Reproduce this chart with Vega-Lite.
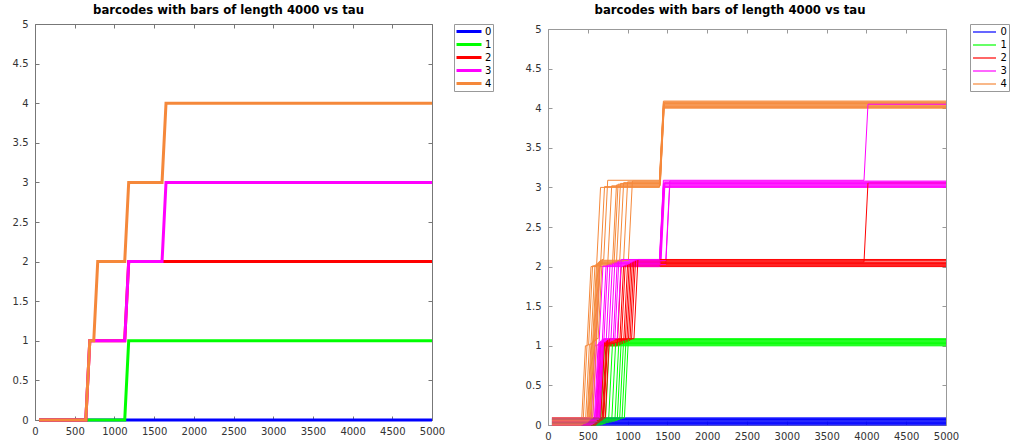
{
  "$schema": "https://vega.github.io/schema/vega-lite/v6.json",
  "padding": {"left": 0, "top": 4, "right": 0, "bottom": 0},
  "background": "white",
  "spacing": 19,
  "resolve": {"scale": {"color": "independent"}, "legend": {"color": "independent"}},
  "config": {
    "view": {"stroke": null},
    "font": "DejaVu Sans",
    "axis": {"grid": false, "labelFont": "DejaVu Sans", "labelFontSize": 10, "labelColor": "#333", "labelFlush": false, "labelOverlap": false, "tickSize": -4, "title": null}
  },
  "datasets": {
    "L": [
      {"t":50,"v":0,"s":"0"},{"t":5000,"v":0,"s":"0"},
      {"t":50,"v":0,"s":"1"},{"t":1130,"v":0,"s":"1"},{"t":1180,"v":1,"s":"1"},{"t":5000,"v":1,"s":"1"},
      {"t":50,"v":0,"s":"2"},{"t":640,"v":0,"s":"2"},{"t":690,"v":1,"s":"2"},{"t":1130,"v":1,"s":"2"},{"t":1180,"v":2,"s":"2"},{"t":5000,"v":2,"s":"2"},
      {"t":50,"v":0,"s":"3"},{"t":640,"v":0,"s":"3"},{"t":690,"v":1,"s":"3"},{"t":1130,"v":1,"s":"3"},{"t":1180,"v":2,"s":"3"},{"t":1600,"v":2,"s":"3"},{"t":1650,"v":3,"s":"3"},{"t":5000,"v":3,"s":"3"},
      {"t":50,"v":0,"s":"4"},{"t":640,"v":0,"s":"4"},{"t":690,"v":1,"s":"4"},{"t":740,"v":1,"s":"4"},{"t":790,"v":2,"s":"4"},{"t":1130,"v":2,"s":"4"},{"t":1180,"v":3,"s":"4"},{"t":1600,"v":3,"s":"4"},{"t":1650,"v":4,"s":"4"},{"t":5000,"v":4,"s":"4"}
    ],
    "R": [
      {"t":50,"v":0,"s":"0","r":0},{"t":5000,"v":0,"s":"0","r":0},
      {"t":50,"v":0,"s":"1","r":0},{"t":660,"v":0,"s":"1","r":0},{"t":710,"v":1,"s":"1","r":0},{"t":5000,"v":1,"s":"1","r":0},
      {"t":50,"v":0,"s":"2","r":0},{"t":600,"v":0,"s":"2","r":0},{"t":650,"v":1,"s":"2","r":0},{"t":870,"v":1,"s":"2","r":0},{"t":920,"v":2,"s":"2","r":0},{"t":5000,"v":2,"s":"2","r":0},
      {"t":50,"v":0,"s":"3","r":0},{"t":540,"v":0,"s":"3","r":0},{"t":590,"v":1,"s":"3","r":0},{"t":600,"v":1,"s":"3","r":0},{"t":650,"v":2,"s":"3","r":0},{"t":1400,"v":2,"s":"3","r":0},{"t":1450,"v":3,"s":"3","r":0},{"t":5000,"v":3,"s":"3","r":0},
      {"t":50,"v":0,"s":"4","r":0},{"t":420,"v":0,"s":"4","r":0},{"t":470,"v":1,"s":"4","r":0},{"t":490,"v":1,"s":"4","r":0},{"t":540,"v":2,"s":"4","r":0},{"t":610,"v":2,"s":"4","r":0},{"t":660,"v":3,"s":"4","r":0},{"t":1400,"v":3,"s":"4","r":0},{"t":1450,"v":4,"s":"4","r":0},{"t":5000,"v":4,"s":"4","r":0},

      {"t":50,"v":0.01,"s":"0","r":1},{"t":5000,"v":0.01,"s":"0","r":1},
      {"t":50,"v":0.01,"s":"1","r":1},{"t":690,"v":0.01,"s":"1","r":1},{"t":740,"v":1.01,"s":"1","r":1},{"t":5000,"v":1.01,"s":"1","r":1},
      {"t":50,"v":0.01,"s":"2","r":1},{"t":610,"v":0.01,"s":"2","r":1},{"t":660,"v":1.01,"s":"2","r":1},{"t":900,"v":1.01,"s":"2","r":1},{"t":950,"v":2.01,"s":"2","r":1},{"t":5000,"v":2.01,"s":"2","r":1},
      {"t":50,"v":0.01,"s":"3","r":1},{"t":560,"v":0.01,"s":"3","r":1},{"t":610,"v":1.01,"s":"3","r":1},{"t":640,"v":1.01,"s":"3","r":1},{"t":690,"v":2.01,"s":"3","r":1},{"t":1410,"v":2.01,"s":"3","r":1},{"t":1460,"v":3.01,"s":"3","r":1},{"t":5000,"v":3.01,"s":"3","r":1},
      {"t":50,"v":0.01,"s":"4","r":1},{"t":440,"v":0.01,"s":"4","r":1},{"t":490,"v":1.01,"s":"4","r":1},{"t":510,"v":1.01,"s":"4","r":1},{"t":560,"v":2.01,"s":"4","r":1},{"t":660,"v":2.01,"s":"4","r":1},{"t":710,"v":3.01,"s":"4","r":1},{"t":1400,"v":3.01,"s":"4","r":1},{"t":1450,"v":4.01,"s":"4","r":1},{"t":5000,"v":4.01,"s":"4","r":1},

      {"t":50,"v":0.02,"s":"0","r":2},{"t":5000,"v":0.02,"s":"0","r":2},
      {"t":50,"v":0.02,"s":"1","r":2},{"t":720,"v":0.02,"s":"1","r":2},{"t":770,"v":1.02,"s":"1","r":2},{"t":5000,"v":1.02,"s":"1","r":2},
      {"t":50,"v":0.02,"s":"2","r":2},{"t":620,"v":0.02,"s":"2","r":2},{"t":670,"v":1.02,"s":"2","r":2},{"t":920,"v":1.02,"s":"2","r":2},{"t":970,"v":2.02,"s":"2","r":2},{"t":5000,"v":2.02,"s":"2","r":2},
      {"t":50,"v":0.02,"s":"3","r":2},{"t":580,"v":0.02,"s":"3","r":2},{"t":630,"v":1.02,"s":"3","r":2},{"t":680,"v":1.02,"s":"3","r":2},{"t":730,"v":2.02,"s":"3","r":2},{"t":1400,"v":2.02,"s":"3","r":2},{"t":1450,"v":3.02,"s":"3","r":2},{"t":5000,"v":3.02,"s":"3","r":2},
      {"t":50,"v":0.02,"s":"4","r":2},{"t":470,"v":0.02,"s":"4","r":2},{"t":520,"v":1.02,"s":"4","r":2},{"t":540,"v":1.02,"s":"4","r":2},{"t":590,"v":2.02,"s":"4","r":2},{"t":750,"v":2.02,"s":"4","r":2},{"t":800,"v":3.02,"s":"4","r":2},{"t":1410,"v":3.02,"s":"4","r":2},{"t":1460,"v":4.02,"s":"4","r":2},{"t":5000,"v":4.02,"s":"4","r":2},

      {"t":50,"v":0.03,"s":"0","r":3},{"t":5000,"v":0.03,"s":"0","r":3},
      {"t":50,"v":0.03,"s":"1","r":3},{"t":760,"v":0.03,"s":"1","r":3},{"t":810,"v":1.03,"s":"1","r":3},{"t":5000,"v":1.03,"s":"1","r":3},
      {"t":50,"v":0.03,"s":"2","r":3},{"t":640,"v":0.03,"s":"2","r":3},{"t":690,"v":1.03,"s":"2","r":3},{"t":950,"v":1.03,"s":"2","r":3},{"t":1000,"v":2.03,"s":"2","r":3},{"t":5000,"v":2.03,"s":"2","r":3},
      {"t":50,"v":0.03,"s":"3","r":3},{"t":600,"v":0.03,"s":"3","r":3},{"t":650,"v":1.03,"s":"3","r":3},{"t":700,"v":1.03,"s":"3","r":3},{"t":750,"v":2.03,"s":"3","r":3},{"t":1480,"v":2.03,"s":"3","r":3},{"t":1530,"v":3.03,"s":"3","r":3},{"t":5000,"v":3.03,"s":"3","r":3},
      {"t":50,"v":0.03,"s":"4","r":3},{"t":490,"v":0.03,"s":"4","r":3},{"t":540,"v":1.03,"s":"4","r":3},{"t":560,"v":1.03,"s":"4","r":3},{"t":610,"v":2.03,"s":"4","r":3},{"t":810,"v":2.03,"s":"4","r":3},{"t":860,"v":3.03,"s":"4","r":3},{"t":1400,"v":3.03,"s":"4","r":3},{"t":1450,"v":4.03,"s":"4","r":3},{"t":5000,"v":4.03,"s":"4","r":3},

      {"t":50,"v":0.04,"s":"0","r":4},{"t":5000,"v":0.04,"s":"0","r":4},
      {"t":50,"v":0.04,"s":"1","r":4},{"t":800,"v":0.04,"s":"1","r":4},{"t":850,"v":1.04,"s":"1","r":4},{"t":5000,"v":1.04,"s":"1","r":4},
      {"t":50,"v":0.04,"s":"2","r":4},{"t":650,"v":0.04,"s":"2","r":4},{"t":700,"v":1.04,"s":"2","r":4},{"t":970,"v":1.04,"s":"2","r":4},{"t":1020,"v":2.04,"s":"2","r":4},{"t":5000,"v":2.04,"s":"2","r":4},
      {"t":50,"v":0.04,"s":"3","r":4},{"t":590,"v":0.04,"s":"3","r":4},{"t":640,"v":1.04,"s":"3","r":4},{"t":730,"v":1.04,"s":"3","r":4},{"t":780,"v":2.04,"s":"3","r":4},{"t":1410,"v":2.04,"s":"3","r":4},{"t":1460,"v":3.04,"s":"3","r":4},{"t":5000,"v":3.04,"s":"3","r":4},
      {"t":50,"v":0.04,"s":"4","r":4},{"t":500,"v":0.04,"s":"4","r":4},{"t":550,"v":1.04,"s":"4","r":4},{"t":570,"v":1.04,"s":"4","r":4},{"t":620,"v":2.04,"s":"4","r":4},{"t":830,"v":2.04,"s":"4","r":4},{"t":880,"v":3.04,"s":"4","r":4},{"t":1410,"v":3.04,"s":"4","r":4},{"t":1460,"v":4.04,"s":"4","r":4},{"t":5000,"v":4.04,"s":"4","r":4},

      {"t":50,"v":0.05,"s":"0","r":5},{"t":5000,"v":0.05,"s":"0","r":5},
      {"t":50,"v":0.05,"s":"1","r":5},{"t":840,"v":0.05,"s":"1","r":5},{"t":890,"v":1.05,"s":"1","r":5},{"t":5000,"v":1.05,"s":"1","r":5},
      {"t":50,"v":0.05,"s":"2","r":5},{"t":660,"v":0.05,"s":"2","r":5},{"t":710,"v":1.05,"s":"2","r":5},{"t":990,"v":1.05,"s":"2","r":5},{"t":1040,"v":2.05,"s":"2","r":5},{"t":5000,"v":2.05,"s":"2","r":5},
      {"t":50,"v":0.05,"s":"3","r":5},{"t":620,"v":0.05,"s":"3","r":5},{"t":670,"v":1.05,"s":"3","r":5},{"t":760,"v":1.05,"s":"3","r":5},{"t":810,"v":2.05,"s":"3","r":5},{"t":1400,"v":2.05,"s":"3","r":5},{"t":1450,"v":3.05,"s":"3","r":5},{"t":5000,"v":3.05,"s":"3","r":5},
      {"t":50,"v":0.05,"s":"4","r":5},{"t":510,"v":0.05,"s":"4","r":5},{"t":560,"v":1.05,"s":"4","r":5},{"t":580,"v":1.05,"s":"4","r":5},{"t":630,"v":2.05,"s":"4","r":5},{"t":860,"v":2.05,"s":"4","r":5},{"t":910,"v":3.05,"s":"4","r":5},{"t":1400,"v":3.05,"s":"4","r":5},{"t":1450,"v":4.05,"s":"4","r":5},{"t":5000,"v":4.05,"s":"4","r":5},

      {"t":50,"v":0.06,"s":"0","r":6},{"t":5000,"v":0.06,"s":"0","r":6},
      {"t":50,"v":0.06,"s":"1","r":6},{"t":870,"v":0.06,"s":"1","r":6},{"t":920,"v":1.06,"s":"1","r":6},{"t":5000,"v":1.06,"s":"1","r":6},
      {"t":50,"v":0.06,"s":"2","r":6},{"t":680,"v":0.06,"s":"2","r":6},{"t":730,"v":1.06,"s":"2","r":6},{"t":1010,"v":1.06,"s":"2","r":6},{"t":1060,"v":2.06,"s":"2","r":6},{"t":3970,"v":2.06,"s":"2","r":6},{"t":4020,"v":3.06,"s":"2","r":6},{"t":5000,"v":3.06,"s":"2","r":6},
      {"t":50,"v":0.06,"s":"3","r":6},{"t":610,"v":0.06,"s":"3","r":6},{"t":660,"v":1.06,"s":"3","r":6},{"t":790,"v":1.06,"s":"3","r":6},{"t":840,"v":2.06,"s":"3","r":6},{"t":1420,"v":2.06,"s":"3","r":6},{"t":1470,"v":3.06,"s":"3","r":6},{"t":5000,"v":3.06,"s":"3","r":6},
      {"t":50,"v":0.06,"s":"4","r":6},{"t":520,"v":0.06,"s":"4","r":6},{"t":570,"v":1.06,"s":"4","r":6},{"t":590,"v":1.06,"s":"4","r":6},{"t":640,"v":2.06,"s":"4","r":6},{"t":900,"v":2.06,"s":"4","r":6},{"t":950,"v":3.06,"s":"4","r":6},{"t":1410,"v":3.06,"s":"4","r":6},{"t":1460,"v":4.06,"s":"4","r":6},{"t":5000,"v":4.06,"s":"4","r":6},

      {"t":50,"v":0.07,"s":"0","r":7},{"t":5000,"v":0.07,"s":"0","r":7},
      {"t":50,"v":0.07,"s":"1","r":7},{"t":900,"v":0.07,"s":"1","r":7},{"t":950,"v":1.07,"s":"1","r":7},{"t":5000,"v":1.07,"s":"1","r":7},
      {"t":50,"v":0.07,"s":"2","r":7},{"t":690,"v":0.07,"s":"2","r":7},{"t":740,"v":1.07,"s":"2","r":7},{"t":1030,"v":1.07,"s":"2","r":7},{"t":1080,"v":2.07,"s":"2","r":7},{"t":5000,"v":2.07,"s":"2","r":7},
      {"t":50,"v":0.07,"s":"3","r":7},{"t":640,"v":0.07,"s":"3","r":7},{"t":690,"v":1.07,"s":"3","r":7},{"t":820,"v":1.07,"s":"3","r":7},{"t":870,"v":2.07,"s":"3","r":7},{"t":1410,"v":2.07,"s":"3","r":7},{"t":1460,"v":3.07,"s":"3","r":7},{"t":5000,"v":3.07,"s":"3","r":7},
      {"t":50,"v":0.07,"s":"4","r":7},{"t":530,"v":0.07,"s":"4","r":7},{"t":580,"v":1.07,"s":"4","r":7},{"t":600,"v":1.07,"s":"4","r":7},{"t":650,"v":2.07,"s":"4","r":7},{"t":950,"v":2.07,"s":"4","r":7},{"t":1000,"v":3.07,"s":"4","r":7},{"t":1400,"v":3.07,"s":"4","r":7},{"t":1450,"v":4.07,"s":"4","r":7},{"t":5000,"v":4.07,"s":"4","r":7},

      {"t":50,"v":0.08,"s":"0","r":8},{"t":5000,"v":0.08,"s":"0","r":8},
      {"t":50,"v":0.08,"s":"1","r":8},{"t":930,"v":0.08,"s":"1","r":8},{"t":980,"v":1.08,"s":"1","r":8},{"t":5000,"v":1.08,"s":"1","r":8},
      {"t":50,"v":0.08,"s":"2","r":8},{"t":700,"v":0.08,"s":"2","r":8},{"t":750,"v":1.08,"s":"2","r":8},{"t":1050,"v":1.08,"s":"2","r":8},{"t":1100,"v":2.08,"s":"2","r":8},{"t":5000,"v":2.08,"s":"2","r":8},
      {"t":50,"v":0.08,"s":"3","r":8},{"t":630,"v":0.08,"s":"3","r":8},{"t":680,"v":1.08,"s":"3","r":8},{"t":840,"v":1.08,"s":"3","r":8},{"t":890,"v":2.08,"s":"3","r":8},{"t":1480,"v":2.08,"s":"3","r":8},{"t":1530,"v":3.08,"s":"3","r":8},{"t":5000,"v":3.08,"s":"3","r":8},
      {"t":50,"v":0.08,"s":"4","r":8},{"t":540,"v":0.08,"s":"4","r":8},{"t":590,"v":1.08,"s":"4","r":8},{"t":610,"v":1.08,"s":"4","r":8},{"t":660,"v":2.08,"s":"4","r":8},{"t":1010,"v":2.08,"s":"4","r":8},{"t":1060,"v":3.08,"s":"4","r":8},{"t":1410,"v":3.08,"s":"4","r":8},{"t":1460,"v":4.08,"s":"4","r":8},{"t":5000,"v":4.08,"s":"4","r":8},

      {"t":50,"v":0.09,"s":"0","r":9},{"t":5000,"v":0.09,"s":"0","r":9},
      {"t":50,"v":0.09,"s":"1","r":9},{"t":960,"v":0.09,"s":"1","r":9},{"t":1010,"v":1.09,"s":"1","r":9},{"t":5000,"v":1.09,"s":"1","r":9},
      {"t":50,"v":0.09,"s":"2","r":9},{"t":720,"v":0.09,"s":"2","r":9},{"t":770,"v":1.09,"s":"2","r":9},{"t":1080,"v":1.09,"s":"2","r":9},{"t":1130,"v":2.09,"s":"2","r":9},{"t":5000,"v":2.09,"s":"2","r":9},
      {"t":50,"v":0.09,"s":"3","r":9},{"t":650,"v":0.09,"s":"3","r":9},{"t":700,"v":1.09,"s":"3","r":9},{"t":870,"v":1.09,"s":"3","r":9},{"t":920,"v":2.09,"s":"3","r":9},{"t":1400,"v":2.09,"s":"3","r":9},{"t":1450,"v":3.09,"s":"3","r":9},{"t":3970,"v":3.09,"s":"3","r":9},{"t":4020,"v":4.05,"s":"3","r":9},{"t":5000,"v":4.05,"s":"3","r":9},
      {"t":50,"v":0.09,"s":"4","r":9},{"t":560,"v":0.09,"s":"4","r":9},{"t":610,"v":1.09,"s":"4","r":9},{"t":630,"v":1.09,"s":"4","r":9},{"t":680,"v":2.09,"s":"4","r":9},{"t":700,"v":2.09,"s":"4","r":9},{"t":750,"v":3.09,"s":"4","r":9},{"t":1400,"v":3.09,"s":"4","r":9},{"t":1450,"v":4.09,"s":"4","r":9},{"t":5000,"v":4.09,"s":"4","r":9}
    ]
  },
  "hconcat": [
    {
      "width": 397,
      "height": 396,
      "data": {"name": "L"},
      "title": {"text": "barcodes with bars of length 4000 vs tau", "font": "DejaVu Sans", "fontSize": 11.7, "fontWeight": "bold", "color": "#000", "offset": 2, "dx": -5},
      "layer": [
        {
          "mark": {"type": "line", "strokeWidth": 3, "clip": false},
          "encoding": {
            "x": {"field": "t", "type": "quantitative", "scale": {"domain": [0, 5000], "nice": false},
                  "axis": {"orient": "bottom", "values": [0,500,1000,1500,2000,2500,3000,3500,4000,4500,5000], "format": "d", "labelPadding": 10, "domainColor": "#777", "tickColor": "#777"}},
            "y": {"field": "v", "type": "quantitative", "scale": {"domain": [0, 5], "nice": false, "zero": false},
                  "axis": {"orient": "left", "values": [0,0.5,1,1.5,2,2.5,3,3.5,4,4.5,5], "format": "~g", "labelPadding": 11, "minExtent": 35, "maxExtent": 35, "domainColor": "#777", "tickColor": "#777"}},
            "color": {"field": "s", "type": "nominal",
                      "scale": {"domain": ["0","1","2","3","4"], "range": ["#0000ff","#00ff00","#ff0000","#ff00ff","#f5883a"]},
                      "legend": {"title": null, "symbolType": "M-1,0H4", "symbolSize": 100, "symbolStrokeWidth": 3, "labelFontSize": 10, "labelColor": "#000", "labelOffset": 17, "strokeColor": "#999", "fillColor": "#fff", "padding": 1, "offset": 16, "rowPadding": -1.2}}
          }
        },
        {
          "mark": {"type": "line", "opacity": 0},
          "encoding": {
            "x": {"field": "t", "type": "quantitative", "axis": {"orient": "top", "labels": false, "values": [0,500,1000,1500,2000,2500,3000,3500,4000,4500,5000], "minExtent": 0, "maxExtent": 0, "domainColor": "#777", "tickColor": "#777"}},
            "y": {"field": "v", "type": "quantitative", "axis": {"orient": "right", "labels": false, "values": [0,0.5,1,1.5,2,2.5,3,3.5,4,4.5,5], "minExtent": 0, "maxExtent": 0, "domainColor": "#777", "tickColor": "#777"}}
          }
        }
      ],
      "resolve": {"axis": {"x": "independent", "y": "independent"}}
    },
    {
      "width": 398,
      "height": 401,
      "data": {"name": "R"},
      "title": {"text": "barcodes with bars of length 4000 vs tau", "font": "DejaVu Sans", "fontSize": 11.7, "fontWeight": "bold", "color": "#000", "offset": 7, "dx": -17},
      "layer": [
        {
          "mark": {"type": "line", "strokeWidth": 1, "clip": false},
          "encoding": {
            "x": {"field": "t", "type": "quantitative", "scale": {"domain": [0, 5000], "nice": false},
                  "axis": {"orient": "bottom", "values": [0,500,1000,1500,2000,2500,3000,3500,4000,4500,5000], "format": "d", "labelPadding": 10, "domainColor": "#999", "tickColor": "#999"}},
            "y": {"field": "v", "type": "quantitative", "scale": {"domain": [0, 5], "range": [401, 5], "nice": false, "zero": false},
                  "axis": {"orient": "left", "values": [0,0.5,1,1.5,2,2.5,3,3.5,4,4.5,5], "format": "~g", "labelPadding": 11, "minExtent": 35, "maxExtent": 35, "domainColor": "#999", "tickColor": "#999"}},
            "color": {"field": "s", "type": "nominal",
                      "scale": {"domain": ["0","1","2","3","4"], "range": ["#0000ff","#00ff00","#ff0000","#ff00ff","#f5883a"]},
                      "legend": {"title": null, "symbolType": "M-1,0H3.6", "symbolSize": 100, "symbolStrokeWidth": 1.2, "labelFontSize": 10, "labelColor": "#000", "labelOffset": 16.5, "strokeColor": "#999", "fillColor": "#fff", "padding": 2, "offset": 22, "rowPadding": 2}},
            "detail": {"field": "r", "type": "nominal"}
          }
        },
        {
          "mark": {"type": "line", "opacity": 0},
          "encoding": {
            "x": {"field": "t", "type": "quantitative", "axis": {"orient": "top", "offset": -5, "labels": false, "values": [0,500,1000,1500,2000,2500,3000,3500,4000,4500,5000], "minExtent": 0, "maxExtent": 0, "domainColor": "#999", "tickColor": "#999"}},
            "y": {"field": "v", "type": "quantitative", "axis": {"orient": "right", "labels": false, "values": [0,0.5,1,1.5,2,2.5,3,3.5,4,4.5,5], "minExtent": 0, "maxExtent": 0, "domainColor": "#999", "tickColor": "#999"}}
          }
        }
      ],
      "resolve": {"axis": {"x": "independent", "y": "independent"}}
    }
  ]
}
